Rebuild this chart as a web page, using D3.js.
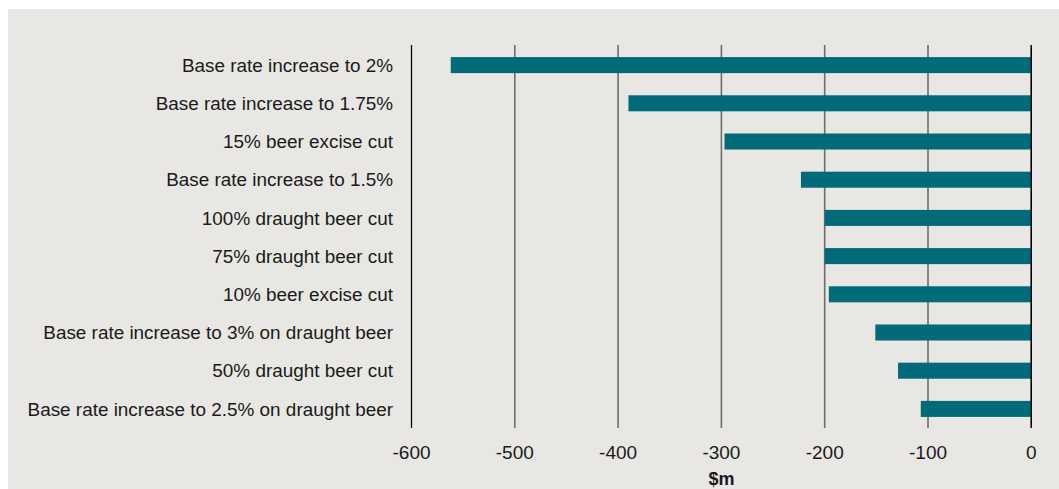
<!DOCTYPE html>
<html>
<head>
<meta charset="utf-8">
<script src="https://cdn.jsdelivr.net/npm/d3@7"></script>
<style>
  html, body { margin: 0; padding: 0; background: #ffffff; }
  svg { display: block; }
  text { font-family: "Liberation Sans", Arial, sans-serif; fill: #1a1a1a; }
</style>
</head>
<body>
<svg id="chart" width="1059" height="489"></svg>
<script>
// Cost of each duty option, $m
const categories = [
  "Base rate increase to 2%",
  "Base rate increase to 1.75%",
  "15% beer excise cut",
  "Base rate increase to 1.5%",
  "100% draught beer cut",
  "75% draught beer cut",
  "10% beer excise cut",
  "Base rate increase to 3% on draught beer",
  "50% draught beer cut",
  "Base rate increase to 2.5% on draught beer"
];
const values = [-562, -390, -297, -223, -200, -200, -196, -151, -129, -107];
const tickValues = [-600, -500, -400, -300, -200, -100, 0];
const axisTitle = "$m";

const svg = d3.select("#chart");

// panel background
svg.append("rect")
  .attr("x", 8).attr("y", 9)
  .attr("width", 1051).attr("height", 480)
  .attr("fill", "#e8e7e3");

const x = d3.scaleLinear().domain([-600, 0]).range([411.5, 1031.3]);
const y = d3.scaleBand().domain(categories).range([46, 428])
  .paddingInner(0.58).paddingOuter(0.29);

// vertical gridlines
svg.append("g")
  .selectAll("line")
  .data(tickValues)
  .join("line")
  .attr("x1", d => x(d)).attr("x2", d => x(d))
  .attr("y1", 45).attr("y2", 428)
  .attr("stroke", d => (d === -600 || d === 0) ? "#000000" : "#6e6e6e")
  .attr("stroke-width", d => (d === -600 || d === 0) ? 1.3 : 1.6);

// bars
svg.append("g")
  .selectAll("rect")
  .data(values)
  .join("rect")
  .attr("x", d => x(d))
  .attr("width", d => x(0) - x(d))
  .attr("y", (d, i) => y(categories[i]))
  .attr("height", y.bandwidth())
  .attr("fill", "#016b79");

// redraw zero line over the bars
svg.append("line")
  .attr("x1", x(0)).attr("x2", x(0))
  .attr("y1", 45).attr("y2", 428)
  .attr("stroke", "#000").attr("stroke-width", 1.3);

// category labels
svg.append("g")
  .selectAll("text")
  .data(categories)
  .join("text")
  .attr("x", 393)
  .attr("y", d => y(d) + y.bandwidth() / 2)
  .attr("dy", "0.35em")
  .attr("text-anchor", "end")
  .attr("font-size", 18.9)
  .text(d => d);

// x tick labels (plain hyphen minus)
svg.append("g")
  .selectAll("text")
  .data(tickValues)
  .join("text")
  .attr("x", d => x(d))
  .attr("y", 458.5)
  .attr("text-anchor", "middle")
  .attr("font-size", 19)
  .text(d => String(d));

// axis title
svg.append("text")
  .attr("x", x(-300))
  .attr("y", 485)
  .attr("text-anchor", "middle")
  .attr("font-size", 18)
  .attr("font-weight", "bold")
  .text(axisTitle);
</script>
</body>
</html>
